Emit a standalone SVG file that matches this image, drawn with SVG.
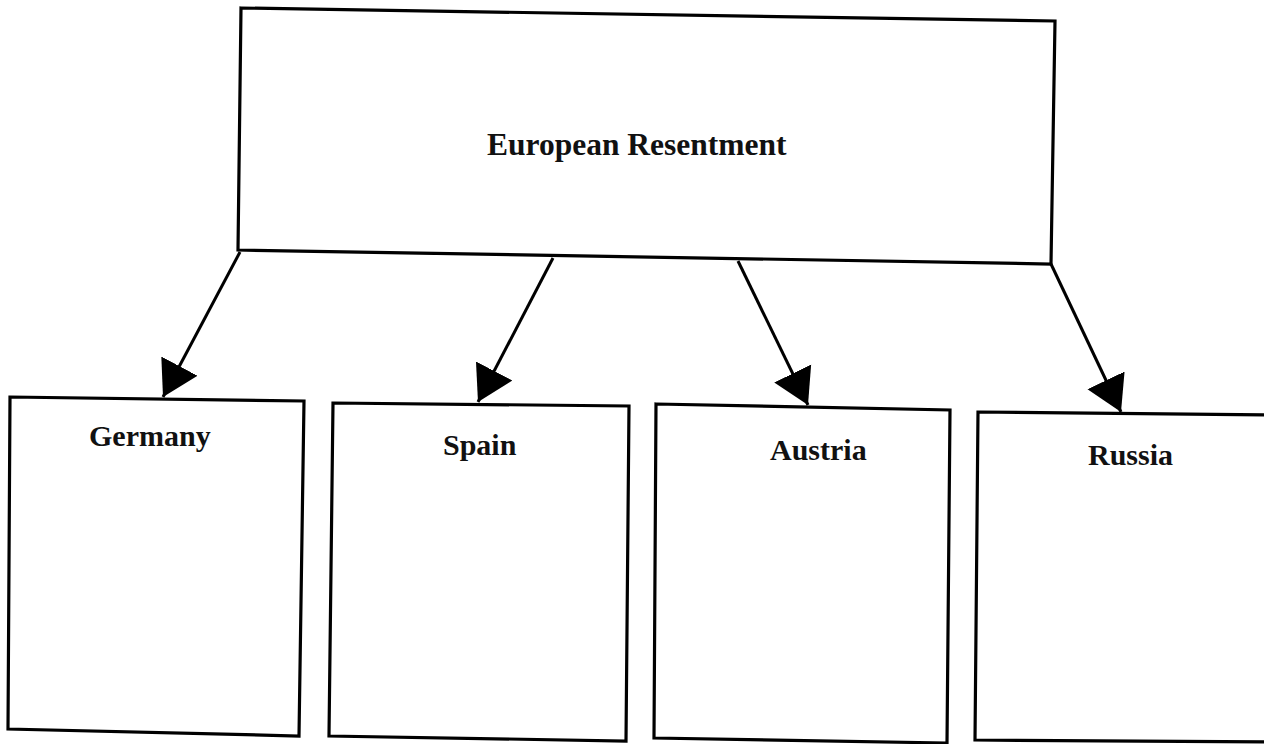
<svg xmlns="http://www.w3.org/2000/svg" width="1264" height="744" viewBox="0 0 1264 744">
<style>
.box{fill:#fff;stroke:#000;stroke-width:3.2;stroke-linejoin:miter}
.lbl{font-family:"Liberation Serif","Times New Roman",serif;font-weight:bold;font-size:30px;fill:#111}
.con{stroke:#000;stroke-width:3;fill:none}
</style>
<defs>
<marker id="ah" markerUnits="userSpaceOnUse" markerWidth="38" markerHeight="44" viewBox="0 -22 38 44" refX="35" refY="0" orient="auto">
<path d="M0,-20.5 L35,0 L0,20.5 Z" fill="#000"/>
</marker>
</defs>
<rect width="1264" height="744" fill="#fff"/>
<g id="european-resentment">
<polygon class="box" points="241,8 1055,21 1051,264 238,250"/>
<text class="lbl" x="487" y="155" style="font-size:31.5px">European Resentment</text>
</g>
<g id="germany">
<polygon class="box" points="10,397 304,401 299,736 8,729"/>
<text class="lbl" x="89" y="446">Germany</text>
</g>
<g id="spain">
<polygon class="box" points="333,403 629,406 626,741 329,736"/>
<text class="lbl" x="443" y="455">Spain</text>
</g>
<g id="austria">
<polygon class="box" points="656,404 950,410 947,743 654,738"/>
<text class="lbl" x="770" y="460">Austria</text>
</g>
<g id="russia">
<polygon class="box" points="978,412 1268,415 1268,742 975,740"/>
<text class="lbl" x="1088" y="465">Russia</text>
</g>
<g id="connectors">
<line class="con" x1="240" y1="252" x2="163" y2="397" marker-end="url(#ah)"/>
<line class="con" x1="553" y1="258" x2="478" y2="402" marker-end="url(#ah)"/>
<line class="con" x1="738" y1="261" x2="808" y2="405" marker-end="url(#ah)"/>
<line class="con" x1="1051" y1="264" x2="1121" y2="412" marker-end="url(#ah)"/>
</g>
</svg>
